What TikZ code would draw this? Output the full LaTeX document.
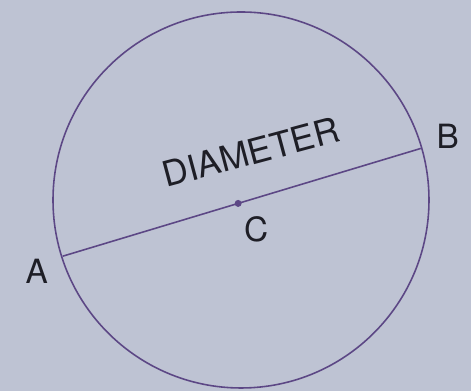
\documentclass[tikz,border=0pt]{standalone}
\usepackage{fontspec}
\setmainfont{TeX Gyre Heros}
\usetikzlibrary{calc}
\definecolor{papercolor}{HTML}{BEC3D3}
\definecolor{chordcolor}{HTML}{5C4785}
\definecolor{inkcolor}{HTML}{1E1E26}
\tikzset{
  geo line/.style={chordcolor,line width=.9pt},
  geo label/.style={text=inkcolor,font=\fontsize{19}{21}\selectfont,inner sep=0pt},
  geo title/.style={text=inkcolor,font=\fontsize{20}{22}\selectfont,inner sep=0pt}
}
\begin{document}
\begin{tikzpicture}[x=0.02cm,y=0.02cm]
  \fill[papercolor] (0,0) rectangle (471,391);
  \coordinate (O) at (241,191);
  \draw[geo line] (O) circle (188);
  \coordinate (A) at ($(O)+(197.5:187)$);
  \coordinate (B) at ($(O)+(16:187)$);
  \draw[geo line] (A) -- (B) coordinate[pos=.49] (C);
  \fill[chordcolor] (C) circle (3.5);
  \node[geo label] (labA) at ($(A)+(-26,-15)$) {A};
  \node[geo label] (labB) at ($(B)+(27,12)$) {B};
  \node[geo label] (labC) at ($(C)+(18,-26)$) {C};
  \node[geo title,rotate=15] (diam) at (251,239) {DIAMETER};
\end{tikzpicture}
\end{document}
